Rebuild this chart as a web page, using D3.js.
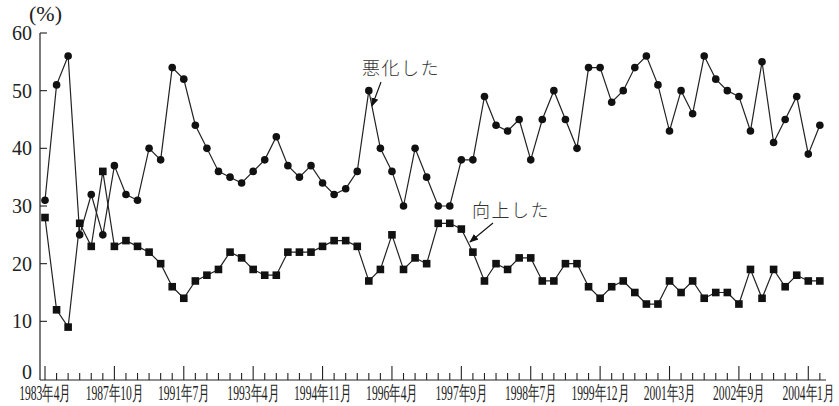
<!DOCTYPE html>
<html>
<head>
<meta charset="utf-8">
<script src="https://cdn.jsdelivr.net/npm/d3@7/dist/d3.min.js"></script>
<style>
  html, body { margin: 0; padding: 0; background: #fff; }
  svg { display: block; }
  .num { font-family: "Liberation Serif", "DejaVu Serif", serif; fill: #222; }
  .jp { font-family: "Noto Sans CJK JP", sans-serif; fill: #333; font-weight: 300; }
</style>
</head>
<body>
<svg id="chart" width="839" height="406"></svg>
<script>
// ---- data ----
const periods = 68; // survey index 0..67
const tickLabels = ["1983年4月","1987年10月","1991年7月","1993年4月","1994年11月","1996年4月",
                    "1997年9月","1998年7月","1999年12月","2001年3月","2002年9月","2004年1月"];
const worsened = [31,51,56,25,32,25,37,32,31,40,38,54,52,44,40,36,35,34,36,38,
                  42,37,35,37,34,32,33,36,50,40,36,30,40,35,30,30,38,38,49,44,
                  43,45,38,45,50,45,40,54,54,48,50,54,56,51,43,50,46,56,52,50,
                  49,43,55,41,45,49,39,44];
const improved = [28,12,9,27,23,36,23,24,23,22,20,16,14,17,18,19,22,21,19,18,
                  18,22,22,22,23,24,24,23,17,19,25,19,21,20,27,27,26,22,17,20,
                  19,21,21,17,17,20,20,16,14,16,17,15,13,13,17,15,17,14,15,15,
                  13,19,14,19,16,18,17,17];
const yTicks = [0,10,20,30,40,50,60];

// ---- layout ----
const svg = d3.select("#chart");
const x = d3.scaleLinear().domain([0, periods - 1]).range([45, 45 + 67 * 11.565]);
const y = d3.scaleLinear().domain([0, 60]).range([379, 33]);
const axisY = 380, axisX0 = 40, axisX1 = 826;

// y axis line
svg.append("line").attr("x1", axisX0).attr("x2", axisX0).attr("y1", y(60)).attr("y2", axisY)
  .attr("stroke", "#222").attr("stroke-width", 1.2);
// x axis line
svg.append("line").attr("x1", axisX0).attr("x2", axisX1).attr("y1", axisY).attr("y2", axisY)
  .attr("stroke", "#222").attr("stroke-width", 1.2);

// y ticks (inward)
svg.selectAll(".ytick").data(yTicks.filter(d => d > 0)).enter().append("line")
  .attr("x1", axisX0).attr("x2", axisX0 + 7)
  .attr("y1", d => y(d)).attr("y2", d => y(d))
  .attr("stroke", "#222").attr("stroke-width", 1.1);
svg.selectAll(".ylab").data(yTicks).enter().append("text")
  .attr("class", "num")
  .attr("x", 32)
  .attr("y", d => d === 0 ? y(0) - 7 : y(d))
  .attr("dy", "0.35em")
  .attr("text-anchor", "end")
  .attr("font-size", 20)
  .text(d => d);
svg.append("text").attr("class", "num").attr("x", 29).attr("y", 21)
  .attr("font-size", 22).text("(%)");

// x ticks
const idx = d3.range(periods);
svg.selectAll(".xtick").data(idx).enter().append("line")
  .attr("x1", d => x(d)).attr("x2", d => x(d))
  .attr("y1", d => d % 6 === 0 ? axisY - 14 : axisY - 7).attr("y2", axisY)
  .attr("stroke", "#222").attr("stroke-width", 1.1);
svg.selectAll(".xlab").data(tickLabels).enter().append("text")
  .attr("class", "num")
  .attr("transform", (d, i) => `translate(${x(i * 6)},400) scale(0.58,1)`)
  .attr("text-anchor", "middle")
  .attr("font-size", 20)
  .text(d => d);

// lines
const line = d3.line().x((d, i) => x(i)).y(d => y(d));
[worsened, improved].forEach(s => {
  svg.append("path").datum(s).attr("d", line)
    .attr("fill", "none").attr("stroke", "#222").attr("stroke-width", 1.2);
});
// markers
svg.selectAll(".dot").data(worsened).enter().append("circle")
  .attr("cx", (d, i) => x(i)).attr("cy", d => y(d)).attr("r", 3.8).attr("fill", "#111");
svg.selectAll(".sq").data(improved).enter().append("rect")
  .attr("x", (d, i) => x(i) - 3.8).attr("y", d => y(d) - 3.8)
  .attr("width", 7.6).attr("height", 7.6).attr("fill", "#111");

// annotations
const defs = svg.append("defs");
defs.append("marker").attr("id", "arrow").attr("viewBox", "0 0 10 10")
  .attr("refX", 9).attr("refY", 5).attr("markerWidth", 9).attr("markerHeight", 9)
  .attr("markerUnits", "userSpaceOnUse").attr("orient", "auto")
  .append("path").attr("d", "M0,1 L10,5 L0,9 Z").attr("fill", "#111");

svg.append("text").attr("class", "jp").attr("x", 362).attr("y", 75)
  .attr("font-size", 18).attr("letter-spacing", 1.5).text("悪化した");
svg.append("line").attr("x1", 381).attr("y1", 82).attr("x2", 372).attr("y2", 106)
  .attr("stroke", "#111").attr("stroke-width", 1.1).attr("marker-end", "url(#arrow)");

svg.append("text").attr("class", "jp").attr("x", 472).attr("y", 217)
  .attr("font-size", 18).attr("letter-spacing", 1.5).text("向上した");
svg.append("line").attr("x1", 493).attr("y1", 223).attr("x2", 470).attr("y2", 242)
  .attr("stroke", "#111").attr("stroke-width", 1.1).attr("marker-end", "url(#arrow)");
</script>
</body>
</html>
